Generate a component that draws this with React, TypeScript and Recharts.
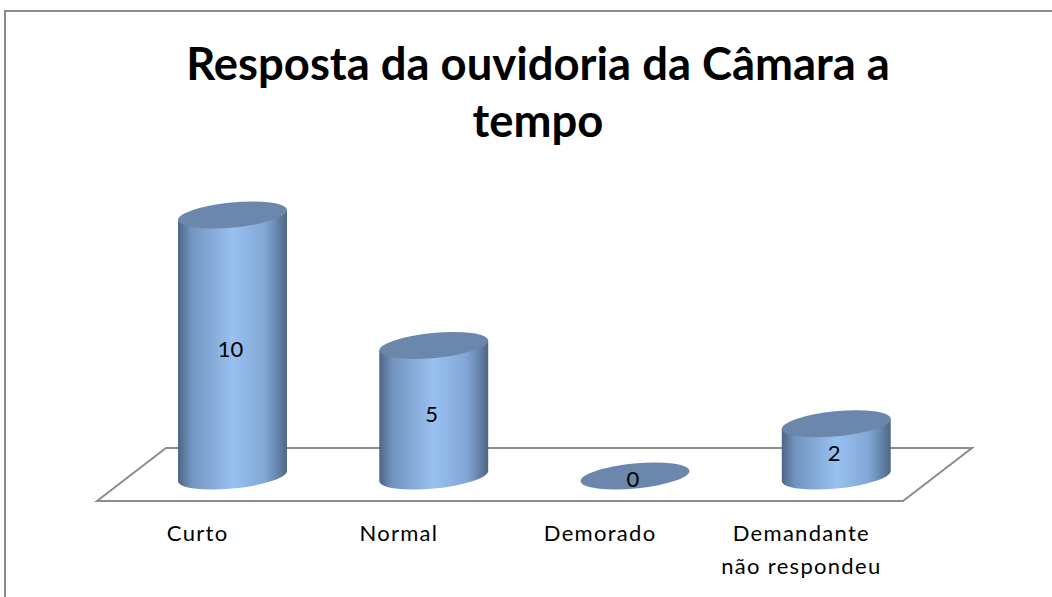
import React from 'react';
import { BarChart, Bar, XAxis, YAxis, LabelList, usePlotArea } from 'recharts';

const categories = ['Curto', 'Normal', 'Demorado', 'Demandante\nnão respondeu'];
const values = [10, 5, 0, 2];
const titleLines = ['Resposta da ouvidoria da Câmara a', 'tempo'];

const chartData = categories.map((name, i) => ({ name, value: values[i] }));

const FONT = 'Lato, "Open Sans", sans-serif';
const CAP_RX = 54.7;
const CAP_RY = 12.5;
const TILT = 5.5; // degrees, the caps lean up to the right

// where the tilted ellipse touches its left/right extremes
const rad = (TILT * Math.PI) / 180;
const extX = Math.sqrt(CAP_RX ** 2 * Math.cos(rad) ** 2 + CAP_RY ** 2 * Math.sin(rad) ** 2);
const extY = ((CAP_RX ** 2 - CAP_RY ** 2) * Math.sin(rad) * Math.cos(rad)) / extX;

const Cylinder = (props: any) => {
  const { x, y, width, height } = props;
  const cx = x + width / 2;
  const top = y;
  const bottom = y + height;
  const body =
    `M${cx - extX},${top + extY} L${cx - extX},${bottom + extY} ` +
    `A${CAP_RX},${CAP_RY} ${-TILT} 0 0 ${cx + extX},${bottom - extY} ` +
    `L${cx + extX},${top - extY} Z`;
  return (
    <g>
      {height > 1 && <path d={body} fill="url(#cylinderFill)" />}
      <ellipse
        cx={cx}
        cy={top}
        rx={CAP_RX}
        ry={CAP_RY}
        fill="#6b87ac"
        transform={`rotate(${-TILT} ${cx} ${top})`}
      />
    </g>
  );
};

// floor of the 3D plot, offset from the plot area
const Floor = () => {
  const plot = usePlotArea();
  if (!plot) return null;
  const left = plot.x;
  const right = plot.x + plot.width;
  const bottom = plot.y + plot.height;
  const pts = [
    [left - 35, bottom + 25],
    [left + 34, bottom - 28],
    [right + 35, bottom - 28],
    [right - 34, bottom + 25],
  ]
    .map((p) => p.join(','))
    .join(' ');
  return <polygon points={pts} fill="#fff" stroke="#8c8c8c" strokeWidth={2} />;
};

const Title = () => (
  <text textAnchor="middle" fontFamily={FONT} fontWeight={700} fontSize={45.4} fill="#000">
    {titleLines.map((line, i) => (
      <tspan key={line} x={538} y={80 + i * 57}>
        {line}
      </tspan>
    ))}
  </text>
);

const CategoryTick = (props: any) => {
  const { x, payload } = props;
  return (
    <text textAnchor="middle" fontFamily={FONT} fontSize={22} letterSpacing={1.3} fill="#000">
      {String(payload.value)
        .split('\n')
        .map((line, i) => (
          <tspan key={line} x={x - 35} y={541 + i * 33}>
            {line}
          </tspan>
        ))}
    </text>
  );
};

const ValueLabel = (props: any) => {
  const { x, y, width, height, value } = props;
  return (
    <text
      x={x + width / 2 - 2}
      y={y + height / 2 + 11}
      textAnchor="middle"
      fontFamily={FONT}
      fontSize={22}
      fill="#000"
    >
      {value}
    </text>
  );
};

export default function App() {
  return (
    <div
      style={{
        position: 'absolute',
        left: 4,
        top: 10,
        width: 1048,
        height: 587,
        borderLeft: '2px solid #8c8c8c',
        borderTop: '2px solid #8c8c8c',
        boxSizing: 'border-box',
      }}
    >
      <div style={{ position: 'absolute', left: -6, top: -12 }}>
        <BarChart
          width={1052}
          height={597}
          data={chartData}
          margin={{ top: 215, right: 115, bottom: 21, left: 132 }}
        >
          <defs>
            <linearGradient id="cylinderFill" x1="0" y1="0" x2="1" y2="0">
              <stop offset="0" stopColor="#4c6584" />
              <stop offset="0.12" stopColor="#7294bf" />
              <stop offset="0.5" stopColor="#98c0f0" />
              <stop offset="0.8" stopColor="#82a7d5" />
              <stop offset="0.93" stopColor="#617fa5" />
              <stop offset="1" stopColor="#4e6783" />
            </linearGradient>
          </defs>
          <Floor />
          <Title />
          <XAxis dataKey="name" axisLine={false} tickLine={false} height={100} interval={0} tick={<CategoryTick />} />
          <YAxis hide domain={[0, 10]} />
          <Bar dataKey="value" barSize={109} shape={<Cylinder />} isAnimationActive={false}>
            <LabelList dataKey="value" content={<ValueLabel />} />
          </Bar>
        </BarChart>
      </div>
    </div>
  );
}
